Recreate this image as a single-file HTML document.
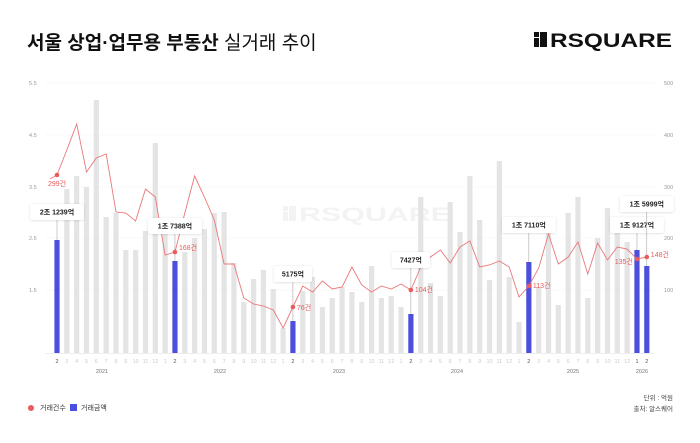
<!DOCTYPE html>
<html><head><meta charset="utf-8"><style>
body{margin:0;background:#fff;width:700px;height:443px;overflow:hidden;font-family:"Liberation Sans","Noto Sans CJK KR",sans-serif}
svg{display:block}
</style></head><body>
<svg id="s" width="700" height="443" xmlns="http://www.w3.org/2000/svg" font-family="Liberation Sans, Noto Sans CJK KR, sans-serif">
<defs><filter id="sh" x="-20%" y="-40%" width="140%" height="180%"><feDropShadow dx="0" dy="0.5" stdDeviation="1.2" flood-color="#000" flood-opacity="0.15"/></filter></defs>
<text x="27" y="49" font-size="19" font-weight="bold" fill="#111">서울 상업·업무용 부동산 <tspan font-weight="normal">실거래 추이</tspan></text>
<g fill="#111"><rect x="534" y="32" width="5" height="5"/><rect x="540" y="32" width="7" height="15"/><rect x="534" y="38" width="5" height="9"/></g>
<text x="550" y="47" font-size="19" font-weight="bold" fill="#111" textLength="122" lengthAdjust="spacingAndGlyphs">RSQUARE</text>
<g opacity="0.07" fill="#666"><rect x="283" y="206" width="5" height="5"/><rect x="289" y="206" width="7" height="15"/><rect x="283" y="212" width="5" height="9"/>
<text x="299" y="221" font-size="19" font-weight="bold" textLength="152" lengthAdjust="spacingAndGlyphs">RSQUARE</text></g>
<g id="g"></g>
<circle cx="31" cy="408" r="3" fill="#e85c5c"/>
<text x="40" y="410" font-size="7" fill="#333">거래건수</text>
<rect x="70" y="404" width="7" height="7" fill="#4a4fe0"/>
<text x="81" y="410" font-size="7" fill="#333">거래금액</text>
<text x="673" y="400" font-size="6.5" fill="#444" text-anchor="end">단위 : 억원</text>
<text x="673" y="411" font-size="6.5" fill="#444" text-anchor="end">출처: 알스퀘어</text>
</svg>
<script>
var g=document.getElementById('g'),h='';
var grid=[[83,'5.5','500'],[135,'4.5','400'],[187,'3.5','300'],[238,'2.5','200'],[290,'1.5','100']];
grid.forEach(function(r){h+='<line x1="45" x2="655" y1="'+r[0]+'" y2="'+r[0]+'" stroke="#f3f3f3" stroke-width="0.6"/>';
h+='<text x="29" y="'+(r[0]+2)+'" font-size="5.5" fill="#999">'+r[1]+'</text>';
h+='<text x="664" y="'+(r[0]+2)+'" font-size="5.5" fill="#999">'+r[2]+'</text>';});
h+='<line x1="45" x2="655" y1="353.5" y2="353.5" stroke="#ddd" stroke-width="0.6"/>';
var bars=[240,189,176,187,100,217,213,250,250,231,143,233,261,252,238,229,213,212,263,302,279,270,289,328,321,291,277,307,298,287,292,302,266,298,296,307,314,197,283,296,202,232,176,220,280,161,277,322,262,287,217,305,213,197,298,238,208,232,242,250,266];
var blue={0:1,12:1,24:1,36:1,48:1,59:1,60:1};
var line=[175,150,124,172,158,154,212,213,221,189,197,255,252,213,176,197,220,264,264,298,304,306,310,328,307,286,292,281,289,287,267,285,292,286,289,284,290,267,257,250,263,247,241,267,265,261,267,297,286,268,234,264,257,242,274,243,260,247,249,259,257];
function X(i){return 57+9.83*i;}
for(var i=0;i<61;i++){var x=X(i);
h+='<rect x="'+(x-2.6)+'" y="'+bars[i]+'" width="5.2" height="'+(353-bars[i])+'" fill="'+(blue[i]?'#4b4fdc':'#e4e4e4')+'"/>';
var m=((i+1)%12)+1;
h+='<text x="'+x+'" y="363" font-size="5.5" text-anchor="middle" fill="'+(blue[i]?'#555':'#ccc')+'">'+m+'</text>';}
var yrs=[[102,'2021'],[220,'2022'],[339,'2023'],[457,'2024'],[573,'2025'],[642,'2026']];
yrs.forEach(function(y){h+='<text x="'+y[0]+'" y="373" font-size="5.5" text-anchor="middle" fill="#777">'+y[1]+'</text>';});
var p='M50,179';for(i=0;i<61;i++)p+=' L'+X(i).toFixed(1)+','+line[i];
h+='<path d="'+p+'" fill="none" stroke="#e8787a" stroke-width="0.9"/>';
var calls=[[0,'2조 1239억',212,'299건',186,0],[12,'1조 7388억',226,'168건',250,1],[24,'5175억',274,'76건',310,1],[36,'7427억',260,'104건',292,1],[48,'1조 7110억',225,'113건',288,1],[59,'1조 9127억',225,'135건',264,-1],[60,'1조 5999억',204,'148건',257,1]];
calls.forEach(function(c){var x=X(c[0]);var w=c[1].length*5.2+12;
h+='<line x1="'+x+'" x2="'+x+'" y1="'+(c[2]+8)+'" y2="'+bars[c[0]]+'" stroke="#999" stroke-width="0.5"/>';
h+='<rect x="'+(x-w/2)+'" y="'+(c[2]-8)+'" width="'+w+'" height="16" rx="2" fill="#fff" filter="url(#sh)"/>';
h+='<text x="'+x+'" y="'+(c[2]+2.5)+'" font-size="7" text-anchor="middle" fill="#222" font-weight="bold">'+c[1]+'</text>';
h+='<circle cx="'+x+'" cy="'+line[c[0]]+'" r="2.3" fill="#e85c5c"/>';
var tx=c[5]==0?x:(c[5]>0?x+4:x-4),an=c[5]==0?'middle':(c[5]>0?'start':'end');
h+='<text x="'+tx+'" y="'+c[4]+'" font-size="7" fill="#e85c5c" text-anchor="'+an+'">'+c[3]+'</text>';});
g.innerHTML=h;
</script>
</body></html>
